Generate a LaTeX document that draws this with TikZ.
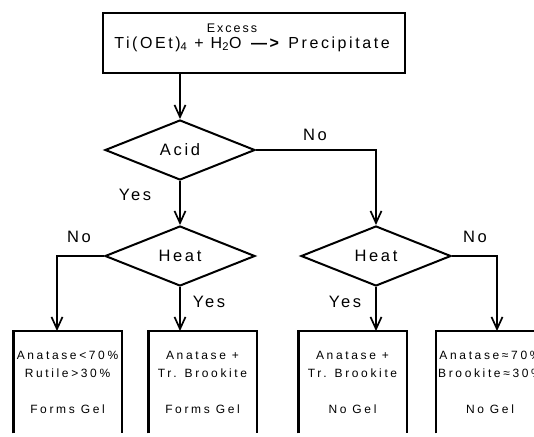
\documentclass[tikz,border=0pt]{standalone}
\usepackage{fontspec}
\setmainfont{Liberation Sans}
\newfontfamily\hv[LetterSpace=16]{Liberation Sans}
\newfontfamily\hvw[LetterSpace=22]{Liberation Sans}
\usetikzlibrary{shapes.geometric,arrows.meta}
\begin{document}
\begin{tikzpicture}[x=1pt,y=-1pt,
  ln/.style={line width=2pt},
  arr/.style={ln,-{Straight Barb[length=12pt,width=11pt,line width=1.7pt]}},
  dia/.style={draw,ln,diamond,minimum width=150pt,minimum height=60pt,inner sep=0pt,font=\hv\fontsize{16.5}{18}\selectfont},
  lbl/.style={font=\hv\fontsize{16.5}{18}\selectfont,inner sep=0pt},
  res/.style={anchor=north,minimum width=108pt,minimum height=102pt,inner sep=0pt,align=center,font=\hvw\fontsize{12}{18}\selectfont},
  resline/.style={line width=2.4pt}
]
\useasboundingbox (0,0) rectangle (534,436);
\clip (0,0) rectangle (534,436);
% top box
\node[draw,line width=2.4pt,minimum width=302pt,minimum height=60pt,inner sep=0pt] (top) at (254,43) {};
\node[inner sep=0pt,font=\hv\fontsize{12.5}{14}\selectfont] (ex) at (232,28) {Excess};
\node[inner sep=0pt,font=\hv\fontsize{16}{18}\selectfont] (eq) at (252,44) {Ti(OEt)\textsubscript{4} + H\textsubscript{2}O \textbf{—>} Precipitate};
% diamonds
\node[dia] (acid) at (180,150) {Acid};
\node[dia] (heatL) at (180,256) {Heat};
\node[dia] (heatR) at (376,256) {Heat};
% result boxes
\node[res] (b1) at (67.5,331) {Anatase<70\%\\Rutile>30\%\\[18pt]Forms Gel};
\node[res] (b2) at (202.5,331) {Anatase +\\Tr. Brookite\\[18pt]Forms Gel};
\node[res] (b3) at (352.5,331) {Anatase +\\Tr. Brookite\\[18pt]No Gel};
\node[res] (b4) at (490,331) {Anatase≈70\%\\Brookite≈30\%\\[18pt]No Gel};
\foreach \b in {b1,b2,b3,b4}
  \draw[resline] (\b.south west) -- (\b.north west) -- (\b.north east) -- (\b.south east);
\coordinate (b1in) at (57,331);
\coordinate (b4in) at (497,331);
% connectors
\draw[arr] (top.south -| acid.north) -- (acid.north);
\draw[arr] (acid.south) -- (heatL.north);
\draw[arr] (acid.east) -| (heatR.north);
\draw[arr] (heatL.west) -| (b1in);
\draw[arr] (heatL.south) -- (heatL.south |- b2.north);
\draw[arr] (heatR.south) -- (heatR.south |- b3.north);
\draw[arr] (heatR.east) -| (b4in);
% labels
\node[lbl] (noA) at (315,135) {No};
\node[lbl] (yesA) at (135,195) {Yes};
\node[lbl] (noL) at (79,237) {No};
\node[lbl] (yesL) at (209,302) {Yes};
\node[lbl] (yesR) at (345,302) {Yes};
\node[lbl] (noR) at (475,237) {No};
\end{tikzpicture}
\end{document}
